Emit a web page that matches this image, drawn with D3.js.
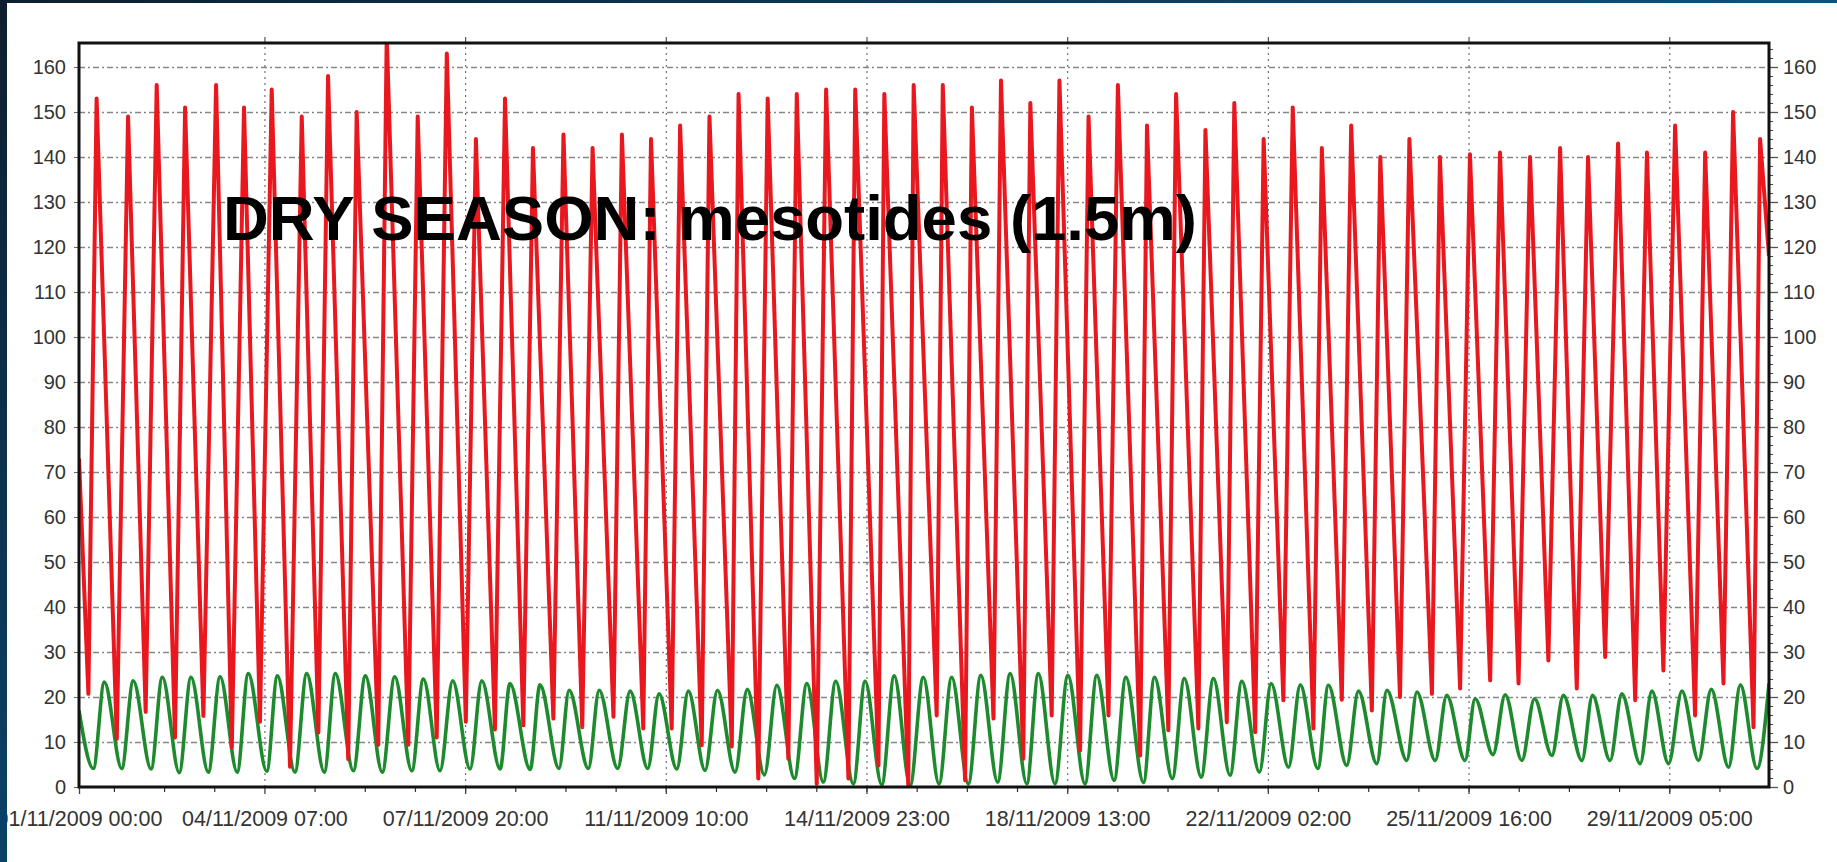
<!DOCTYPE html>
<html>
<head>
<meta charset="utf-8">
<script src="https://cdn.jsdelivr.net/npm/d3@7"></script>
<style>
  body { margin: 0; background: #fff; }
  svg { display: block; }
</style>
</head>
<body>
<div id="chart"></div>
<script>
const W = 1837, H = 862;
const margin = {top: 43, right: 68, bottom: 75, left: 79},
    width = W - margin.left - margin.right,
    height = H - margin.top - margin.bottom;

// hours since 01/11/2009 00:00
const redLowHours = [4.0, 16.1, 28.4, 40.9, 53.0, 65.1, 77.1, 89.9, 102.0, 114.7, 127.5, 140.3, 152.4, 164.8, 177.2,
    189.3, 202.1, 214.4, 227.7, 240.4, 252.5, 265.3, 278.1, 289.4, 302.2, 314.3, 327.8, 340.6, 353.3,
    365.4, 377.5, 389.6, 402.3, 414.4, 426.5, 438.6, 452.1, 464.1, 476.9, 489.0, 501.1, 513.1, 525.9,
    538.0, 550.8, 562.8, 576.4, 588.4, 601.2, 613.3, 626.0, 638.1, 650.2, 663.0, 675.0, 688.5, 700.6, 713.4];
const redLow = [20.7, 10.7, 16.7, 11.0, 15.8, 8.8, 14.5, 4.5, 12.1, 6.2, 9.4, 9.4, 11.0, 14.5, 12.8,
    13.7, 15.2, 13.3, 15.6, 13.0, 13.0, 9.3, 9.0, 1.9, 6.3, 0.7, 1.9, 4.8, 0.4,
    15.9, 1.5, 15.2, 6.3, 15.9, 8.1, 15.9, 7.0, 12.6, 13.0, 14.4, 12.2, 19.3, 13.0,
    19.4, 17.0, 20.0, 20.7, 21.9, 23.7, 23.0, 28.1, 21.9, 28.9, 19.3, 25.9, 15.9, 23.0, 13.3];
const redHighHours = [7.5, 20.9, 33.1, 45.2, 58.4, 70.3, 82.1, 94.9, 106.1, 118.3,
    131.1, 144.3, 156.7, 169.1, 181.5, 193.4, 206.4, 218.8, 231.3, 243.7,
    256.1, 268.6, 281.0, 293.4, 305.8, 318.3, 330.7, 343.1, 355.6, 368.0,
    380.4, 392.8, 405.3, 417.7, 430.1, 442.6, 455.0, 467.4, 479.9, 492.2,
    504.7, 517.1, 529.5, 542.0, 554.4, 566.8, 579.8, 592.6, 605.4, 618.2,
    631.0, 642.9, 655.7, 668.0, 680.0, 692.8, 704.7, 716.2];
const redHigh = [153, 149, 156, 151, 156, 151, 155, 149, 158, 150,
    167, 149, 163, 144, 153, 142, 145, 142, 145, 144,
    147, 149, 154, 153, 154, 155, 155, 154, 156, 156,
    151, 157, 152, 157, 149, 156, 147, 154, 146, 152,
    144, 151, 142, 147, 140, 144, 140, 140.6, 141, 140,
    142, 140, 143, 141, 147, 141, 150, 144];
const redEdgeHours = [0, 720];
const redEdge = [73, 118];

const greenLowHours = [6.1, 18.2, 30.7, 42.7, 55.1, 67.4, 80.0, 92.0, 104.5, 116.9,
    129.2, 141.8, 153.8, 166.6, 179.4, 192.2, 204.5, 217.0, 229.5, 242.3,
    254.7, 266.7, 279.5, 292.0, 304.8, 317.1, 329.9, 342.0, 354.1, 366.4,
    378.9, 391.4, 403.8, 415.8, 428.6, 441.0, 453.5, 465.8, 478.1, 490.4,
    502.9, 515.3, 527.8, 540.1, 552.9, 565.7, 577.8, 590.5, 602.4, 614.7,
    627.5, 640.3, 652.3, 665.1, 677.2, 690.0, 702.8, 714.9];
const greenLow = [4.1, 4.1, 4.0, 3.2, 3.3, 3.3, 3.5, 3.3, 3.3, 3.6, 3.3, 3.6, 3.6, 4.0, 4.0,
    3.9, 4.1, 4.1, 4.1, 4.1, 4.0, 3.7, 3.3, 2.7, 1.9, 1.1, 0.7, 0.5, 0.4,
    0.7, 0.7, 1.1, 0.7, 0.7, 0.7, 1.5, 1.0, 1.9, 2.2, 2.6, 3.3, 4.4, 4.1,
    4.8, 5.2, 5.9, 5.9, 5.9, 7.2, 5.9, 7.0, 5.9, 5.9, 5.2, 5.2, 5.9, 4.4, 4.1];
const greenHighHours = [10.8, 23.1, 35.5, 47.7, 60.1, 72.1, 84.5, 97.0, 109.2, 122.0,
    134.5, 146.7, 159.2, 171.6, 183.6, 196.4, 208.8, 221.6, 234.8, 247.1,
    259.6, 272.0, 284.7, 297.3, 310.1, 322.4, 334.9, 347.3, 359.7, 371.8,
    384.2, 396.7, 408.7, 421.3, 433.6, 446.0, 458.2, 470.9, 483.3, 495.4,
    507.9, 520.3, 532.3, 545.1, 557.2, 570.0, 582.7, 594.8, 607.6, 620.1,
    632.4, 644.8, 657.3, 670.1, 682.9, 695.4, 707.8];
const greenHigh = [23.3, 23.6, 24.4, 24.4, 24.5, 25.2, 24.7, 25.2, 25.2, 24.7, 24.5, 24.0, 23.6, 23.6,
    23.0, 22.7, 21.5, 21.5, 21.3, 20.7, 21.3, 21.5, 21.7, 22.6, 23.0, 23.5, 23.5, 24.7,
    24.4, 24.4, 24.8, 25.2, 25.2, 24.8, 24.8, 24.4, 24.4, 24.1, 24.1, 23.5, 23.0, 22.7, 22.6,
    21.3, 21.5, 21.1, 20.4, 19.6, 20.5, 19.6, 20.4, 20.4, 20.7, 21.3, 21.3, 21.7, 22.7];
const greenEdgeHours = [0, 720];
const greenEdge = [17, 23];

const tickHours = [0, 79, 164.5, 250, 335.5, 421, 506.5, 592, 677.5];
const tickLabels = ["01/11/2009 00:00", "04/11/2009 07:00", "07/11/2009 20:00", "11/11/2009 10:00",
    "14/11/2009 23:00", "18/11/2009 13:00", "22/11/2009 02:00", "25/11/2009 16:00", "29/11/2009 05:00"];
const yTicks = d3.range(0, 161, 10);
const title = "DRY SEASON: mesotides (1.5m)";

const t0 = Date.UTC(2009, 10, 1, 0, 0);
const toDate = h => new Date(t0 + h * 3600e3);

function series(hl, vl, hh, vh, he, ve) {
    const pts = [];
    hl.forEach((h, i) => pts.push({t: toDate(h), v: vl[i]}));
    hh.forEach((h, i) => pts.push({t: toDate(h), v: vh[i]}));
    he.forEach((h, i) => pts.push({t: toDate(h), v: ve[i]}));
    return pts.sort((a, b) => a.t - b.t);
}
const red = series(redLowHours, redLow, redHighHours, redHigh, redEdgeHours, redEdge);
const green = series(greenLowHours, greenLow, greenHighHours, greenHigh, greenEdgeHours, greenEdge);

const font = "'Liberation Sans', Arial, sans-serif";

const root = d3.select("#chart").append("svg")
    .attr("width", W)
    .attr("height", H);

const defs = root.append("defs");
defs.append("clipPath").attr("id", "plotclip")
    .append("rect").attr("width", width).attr("height", height);
const gTop = defs.append("linearGradient").attr("id", "topband").attr("x1", 0).attr("x2", 1).attr("y1", 0).attr("y2", 0);
gTop.append("stop").attr("offset", "0%").attr("stop-color", "#0d1f2e");
gTop.append("stop").attr("offset", "100%").attr("stop-color", "#0a5384");
const gLeft = defs.append("linearGradient").attr("id", "leftband").attr("x1", 0).attr("x2", 0).attr("y1", 0).attr("y2", 1);
gLeft.append("stop").attr("offset", "0%").attr("stop-color", "#0d1f2e");
gLeft.append("stop").attr("offset", "100%").attr("stop-color", "#0a4268");

const svg = root.append("g")
    .attr("transform", `translate(${margin.left}, ${margin.top})`);

const x = d3.scaleUtc()
    .domain([toDate(0), toDate(720)])
    .range([0, width]);
const y = d3.scaleLinear()
    .domain([0, 165.33])
    .range([height, 0]);

const tickDates = tickHours.map(toDate);

// horizontal grid
svg.append("g")
    .call(d3.axisLeft(y).tickValues(yTicks.slice(1)).tickSize(-width).tickFormat(""))
    .call(g => g.select(".domain").remove())
    .selectAll("line")
    .attr("stroke", "#868686")
    .attr("stroke-width", 1.3)
    .attr("stroke-dasharray", "6,3,2,3");

// vertical grid
svg.append("g")
    .attr("transform", `translate(0, ${height})`)
    .call(d3.axisBottom(x).tickValues(tickDates.slice(1)).tickSize(-height).tickFormat(""))
    .call(g => g.select(".domain").remove())
    .selectAll("line")
    .attr("stroke", "#6e6e8a")
    .attr("stroke-width", 1.2)
    .attr("stroke-dasharray", "2,4");

// red trace is angular, green trace is smooth
const redLine = d3.line()
    .x(d => x(d.t))
    .y(d => y(d.v));
const greenLine = d3.line()
    .curve(d3.curveMonotoneX)
    .x(d => x(d.t))
    .y(d => y(d.v));

const plot = svg.append("g").attr("clip-path", "url(#plotclip)");

plot.append("path")
    .datum(green)
    .attr("fill", "none")
    .attr("stroke", "#1e8a2e")
    .attr("stroke-width", 3.6)
    .attr("stroke-linejoin", "round")
    .attr("d", greenLine);

plot.append("path")
    .datum(red)
    .attr("fill", "none")
    .attr("stroke", "#e8181e")
    .attr("stroke-width", 4)
    .attr("stroke-linejoin", "round")
    .attr("d", redLine);

// minor ticks along bottom and top
const step = 85.5 / 4;
const minorHours = [];
for (let h = 79 - step; h > 0; h -= step) minorHours.push(h);
for (let h = 79 + step; h < 720; h += step) minorHours.push(h);
svg.append("g")
    .attr("transform", `translate(0, ${height})`)
    .call(d3.axisBottom(x).tickValues(minorHours.map(toDate)).tickSize(5).tickFormat(""))
    .call(g => g.select(".domain").remove())
    .selectAll("line").attr("stroke", "#333").attr("stroke-width", 1.2);

svg.append("g")
    .call(d3.axisTop(x).tickValues(tickDates.slice(1)).tickSize(6).tickFormat(""))
    .call(g => g.select(".domain").remove())
    .selectAll("line").attr("stroke", "#555").attr("stroke-width", 1.2);

// right minor ticks
svg.append("g")
    .attr("transform", `translate(${width}, 0)`)
    .call(d3.axisRight(y).tickValues(d3.range(0, 165, 2)).tickSize(4).tickFormat(""))
    .call(g => g.select(".domain").remove())
    .selectAll("line").attr("stroke", "#444").attr("stroke-width", 1);

// axes with labels
const xAxis = svg.append("g")
    .attr("transform", `translate(0, ${height})`)
    .call(d3.axisBottom(x).tickValues(tickDates).tickSize(7).tickPadding(17)
        .tickFormat((d, i) => tickLabels[i]));
xAxis.select(".domain").remove();
xAxis.selectAll("line").attr("stroke", "#444").attr("stroke-width", 1.3);
xAxis.selectAll("text")
    .attr("fill", "#333")
    .style("font-family", font)
    .style("font-size", "21.5px");

const yLeft = svg.append("g")
    .call(d3.axisLeft(y).tickValues(yTicks).tickSize(5).tickPadding(8));
yLeft.select(".domain").remove();
yLeft.selectAll("line").attr("stroke", "#666");
yLeft.selectAll("text")
    .attr("fill", "#333")
    .style("font-family", font)
    .style("font-size", "20px");

const yRight = svg.append("g")
    .attr("transform", `translate(${width}, 0)`)
    .call(d3.axisRight(y).tickValues(yTicks).tickSize(9).tickPadding(5));
yRight.select(".domain").remove();
yRight.selectAll("line").attr("stroke", "#555").attr("stroke-width", 1.3);
yRight.selectAll("text")
    .attr("fill", "#333")
    .style("font-family", font)
    .style("font-size", "20px");

// frame
svg.append("rect")
    .attr("width", width)
    .attr("height", height)
    .attr("fill", "none")
    .attr("stroke", "#111")
    .attr("stroke-width", 3);

svg.append("text")
    .attr("x", 144)
    .attr("y", 197)
    .attr("fill", "#000")
    .style("font-family", font)
    .style("font-weight", "bold")
    .style("font-size", "63.5px")
    .text(title);

// slide background bands
root.append("rect").attr("x", 0).attr("y", 0).attr("width", 7).attr("height", H).attr("fill", "url(#leftband)");
root.append("rect").attr("x", 0).attr("y", 0).attr("width", W).attr("height", 3).attr("fill", "url(#topband)");
</script>
</body>
</html>
